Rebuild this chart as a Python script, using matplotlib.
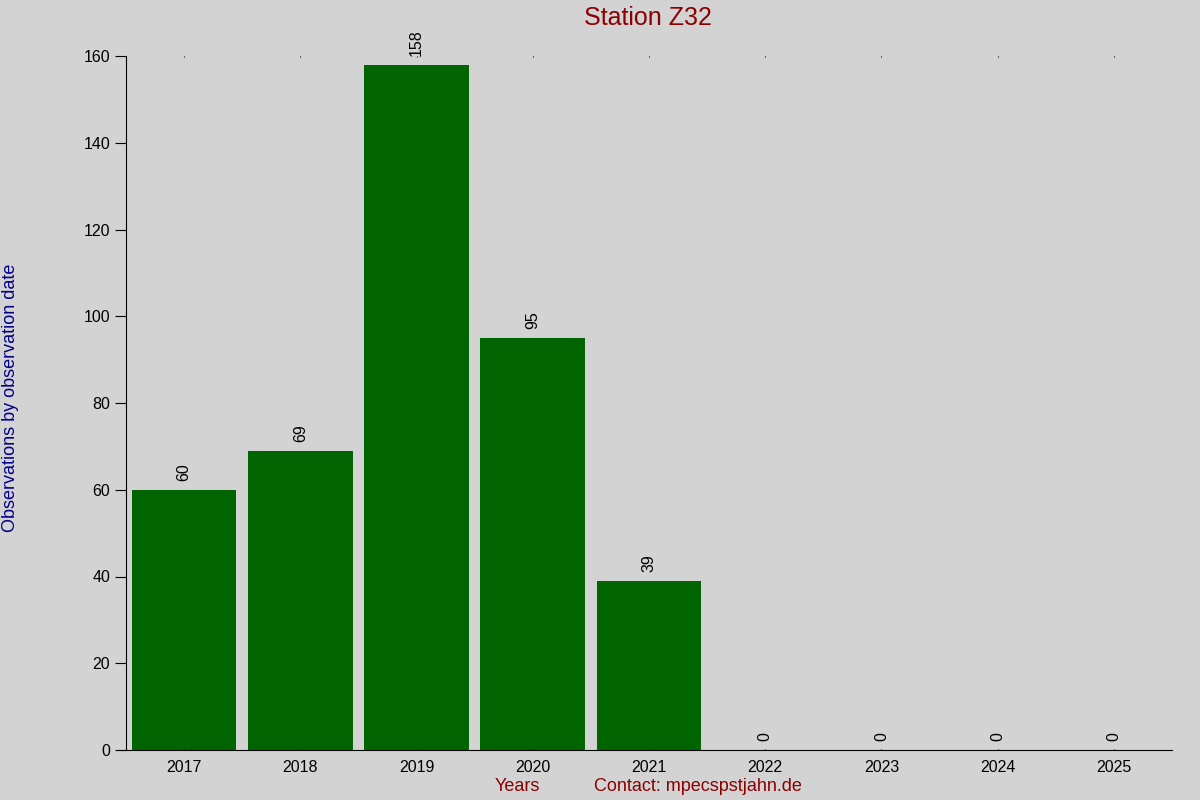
import numpy as np
import matplotlib.pyplot as plt

plt.rcParams['font.family'] = ['Liberation Sans', 'DejaVu Sans']

years = ['2017', '2018', '2019', '2020', '2021', '2022', '2023', '2024', '2025']
counts = [60, 69, 158, 95, 39, 0, 0, 0, 0]

bg = '#d3d3d3'
fig = plt.figure(figsize=(12, 8), dpi=100, facecolor=bg)
ax = fig.add_axes([0.105, 0.0625, 0.8717, 0.8675], facecolor=bg)

x = np.arange(len(years))
bars = ax.bar(x, counts, width=0.9, color='#006400')
for xi, c in zip(x, counts):
    ax.text(xi, c + 2, str(c), rotation=90, ha='center', va='bottom', fontsize=11.5)

ax.set_xlim(-0.5, len(years) - 0.5)
ax.set_ylim(0, 160)
ax.set_yticks(np.arange(0, 161, 20))
ax.set_xticks(x)
ax.set_xticklabels(years)
ax.tick_params(axis='y', direction='out', length=8, labelsize=11.5)
ax.tick_params(axis='x', length=0, labelsize=11.5, pad=7)
ax.tick_params(axis='x', which='both', top=True, direction='in', length=1)
for s in ['top', 'right']:
    ax.spines[s].set_visible(False)
ax.spines['bottom'].set_bounds(-0.57, len(years) - 0.5)
ax.spines['bottom'].set_clip_on(False)

fig.text(0.54, 0.977, 'Station Z32', ha='center', va='center', fontsize=18, color='#8b0000')
fig.text(0.009, 0.503, 'Observations by observation date', rotation=90, ha='center', va='center',
         fontsize=13, color='#00008b')
fig.text(0.431, 0.017, 'Years', ha='center', va='center', fontsize=13, color='#8b0000')
fig.text(0.582, 0.017, 'Contact: mpecspstjahn.de', ha='center', va='center',
         fontsize=13, color='#8b0000')

fig.savefig('out.png', dpi=100, facecolor=bg)
